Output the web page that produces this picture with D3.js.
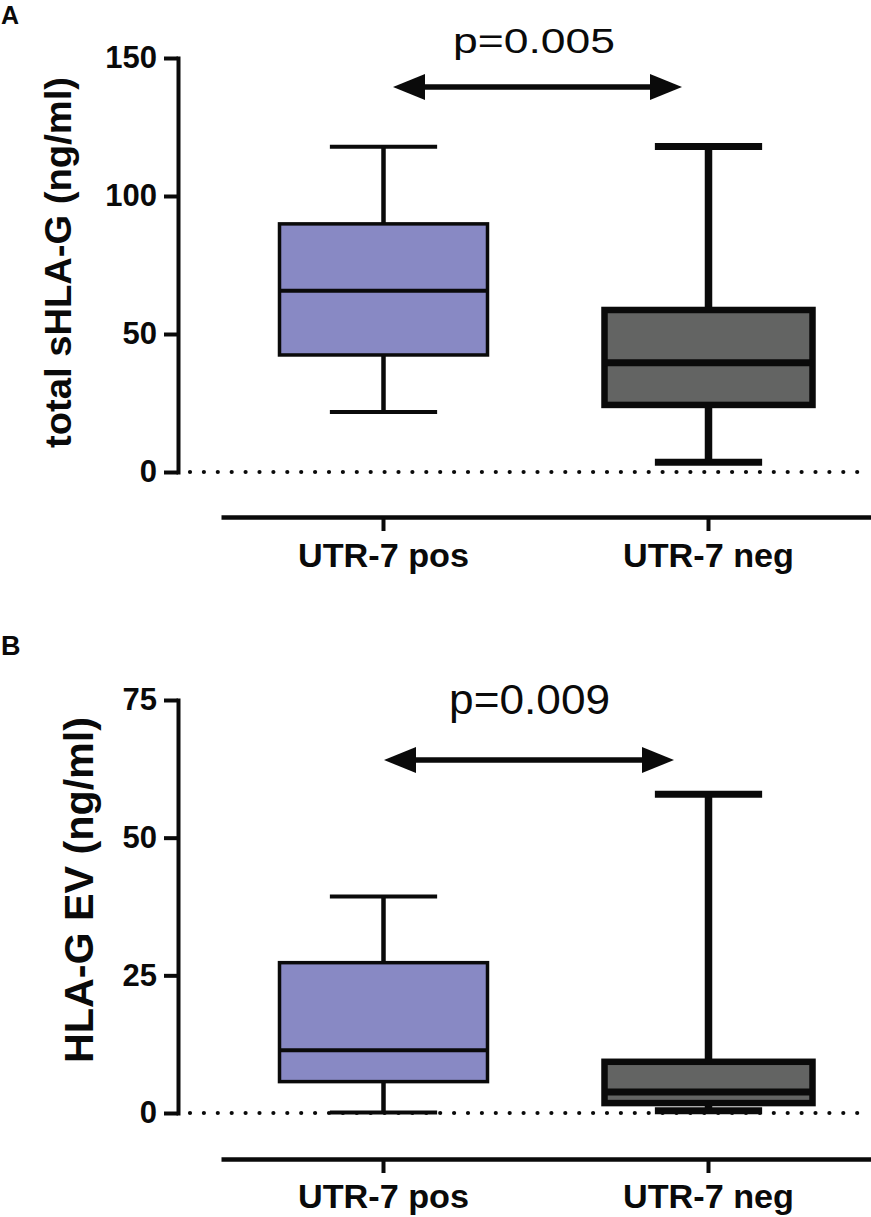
<!DOCTYPE html>
<html>
<head>
<meta charset="utf-8">
<script src="https://cdn.jsdelivr.net/npm/d3@7"></script>
<style>
  html, body { margin: 0; padding: 0; background: #fff; }
  svg { display: block; }
  text { font-family: "Liberation Sans", Arial, Helvetica, sans-serif; }
</style>
</head>
<body>
<svg id="chart" width="871" height="1217"></svg>
<script>
// ---------------- data ----------------
const categories = ["UTR-7 pos", "UTR-7 neg"];

// Panel A: total sHLA-G (ng/ml)
const totalMin    = [21.7, 3.5];
const totalQ1     = [42.4, 24.3];
const totalMedian = [65.7, 39.6];
const totalQ3     = [89.9, 58.7];
const totalMax    = [117.8, 117.9];
const totalTicks  = [0, 50, 100, 150];

// Panel B: HLA-G EV (ng/ml)
const evMin    = [0.1, 0.4];
const evQ1     = [5.7, 1.8];
const evMedian = [11.4, 3.8];
const evQ3     = [27.3, 9.3];
const evMax    = [39.3, 57.9];
const evTicks  = [0, 25, 50, 75];

const pLabels = ["p=0.005", "p=0.009"];
const panelLetters = ["A", "B"];
const yTitles = ["total sHLA-G (ng/ml)", "HLA-G EV (ng/ml)"];

// ---------------- style ----------------
const fills = ["#8889c4", "#636463"];
const strokeW = [4, 7];
const ink = "#0a0a0a";

const svg = d3.select("#chart");

const panels = [
  {
    letter: panelLetters[0], title: yTitles[0], p: pLabels[0],
    min: totalMin, q1: totalQ1, med: totalMedian, q3: totalQ3, max: totalMax,
    ticks: totalTicks, domain: [0, 150], yRange: [472, 58],
    xAxisY: 517, labelBaseline: 567,
    titleX: 71, titleCenter: 262.5, titleLen: 371, titleSize: 37,
    pValue: 151.8, pSize: 35, pLen: 162, pCenterOffset: 0.488,
    arrowValue: 139.5, arrowL: 9.5, arrowR: -26.5,
    letterY: 24, letterSize: 25
  },
  {
    letter: panelLetters[1], title: yTitles[1], p: pLabels[1],
    min: evMin, q1: evQ1, med: evMedian, q3: evQ3, max: evMax,
    ticks: evTicks, domain: [0, 75], yRange: [1113, 700],
    xAxisY: 1159, labelBaseline: 1208,
    titleX: 93, titleCenter: 890, titleLen: 346, titleSize: 40,
    pValue: 72.5, pSize: 43, pLen: 161, pCenterOffset: 0.502,
    arrowValue: 64.1, arrowL: 0.5, arrowR: -34.5,
    letterY: 655, letterSize: 27
  }
];

const x = d3.scaleBand().domain(categories).range([221, 871]);
const bw = x.bandwidth();
const cx = c => x(c) + bw / 2;
const boxW = bw * 0.64;
const capW = bw * 0.33;

panels.forEach(P => {
  const y = d3.scaleLinear().domain(P.domain).range(P.yRange);
  const g = svg.append("g");

  // panel letter
  g.append("text").attr("x", 1).attr("y", P.letterY)
    .attr("font-size", P.letterSize).attr("font-weight", "bold").attr("fill", ink)
    .text(P.letter);

  // y axis
  const yAxis = d3.axisLeft(y).tickValues(P.ticks).tickSize(14).tickSizeOuter(0).tickPadding(7);
  const ya = g.append("g").attr("transform", "translate(178,0)").call(yAxis);
  ya.select(".domain").attr("stroke", ink).attr("stroke-width", 4).attr("stroke-linecap", "square");
  ya.selectAll(".tick line").attr("stroke", ink).attr("stroke-width", 4);
  ya.selectAll(".tick text").attr("font-size", 31).attr("font-weight", "bold").attr("fill", ink)
    .attr("font-family", "'Liberation Sans', Arial, sans-serif");

  // y title
  g.append("text")
    .attr("transform", `translate(${P.titleX},${P.titleCenter}) rotate(-90)`)
    .attr("text-anchor", "middle")
    .attr("font-size", P.titleSize).attr("font-weight", "bold").attr("fill", ink)
    .attr("textLength", P.titleLen).attr("lengthAdjust", "spacingAndGlyphs")
    .text(P.title);

  // dotted zero line
  g.append("line")
    .attr("x1", 190).attr("x2", 858)
    .attr("y1", y(0)).attr("y2", y(0))
    .attr("stroke", ink).attr("stroke-width", 4.2)
    .attr("stroke-linecap", "round").attr("stroke-dasharray", "0 13.9");

  // x axis
  const xAxis = d3.axisBottom(x).tickSize(14).tickSizeOuter(0).tickFormat("");
  const xa = g.append("g").attr("transform", `translate(0,${P.xAxisY})`).call(xAxis);
  xa.select(".domain").attr("stroke", ink).attr("stroke-width", 4.5);
  xa.selectAll(".tick line").attr("stroke", ink).attr("stroke-width", 4);

  // category labels
  g.selectAll(".cat").data(categories).enter().append("text")
    .attr("x", d => cx(d)).attr("y", P.labelBaseline)
    .attr("text-anchor", "middle")
    .attr("font-size", 33).attr("font-weight", "bold").attr("fill", ink)
    .attr("textLength", 171).attr("lengthAdjust", "spacingAndGlyphs")
    .text(d => d);

  // boxes
  categories.forEach((c, i) => {
    const xc = cx(c);
    const sw = strokeW[i];
    const bg = g.append("g");
    // whiskers
    bg.append("line").attr("x1", xc).attr("x2", xc)
      .attr("y1", y(P.max[i])).attr("y2", y(P.q3[i]))
      .attr("stroke", ink).attr("stroke-width", sw + 0.5);
    bg.append("line").attr("x1", xc).attr("x2", xc)
      .attr("y1", y(P.q1[i])).attr("y2", y(P.min[i]))
      .attr("stroke", ink).attr("stroke-width", sw + 0.5);
    // caps
    [P.max[i], P.min[i]].forEach(v => {
      bg.append("line").attr("x1", xc - capW / 2).attr("x2", xc + capW / 2)
        .attr("y1", y(v)).attr("y2", y(v))
        .attr("stroke", ink).attr("stroke-width", sw);
    });
    // box
    bg.append("rect")
      .attr("x", xc - boxW / 2).attr("width", boxW)
      .attr("y", y(P.q3[i])).attr("height", y(P.q1[i]) - y(P.q3[i]))
      .attr("fill", fills[i]).attr("stroke", ink).attr("stroke-width", sw - 0.5);
    // median
    bg.append("line").attr("x1", xc - boxW / 2).attr("x2", xc + boxW / 2)
      .attr("y1", y(P.med[i])).attr("y2", y(P.med[i]))
      .attr("stroke", ink).attr("stroke-width", sw);
  });

  // significance arrow
  const ay = y(P.arrowValue);
  const xl = cx(categories[0]) + P.arrowL;
  const xr = cx(categories[1]) + P.arrowR;
  const headL = 32, headH = 13;
  g.append("line").attr("x1", xl + headL - 2).attr("x2", xr - headL + 2)
    .attr("y1", ay).attr("y2", ay).attr("stroke", ink).attr("stroke-width", 5.5);
  g.append("path")
    .attr("d", `M${xl},${ay} L${xl + headL},${ay - headH} L${xl + headL},${ay + headH} Z`)
    .attr("fill", ink);
  g.append("path")
    .attr("d", `M${xr},${ay} L${xr - headL},${ay - headH} L${xr - headL},${ay + headH} Z`)
    .attr("fill", ink);

  // p label
  g.append("text")
    .attr("x", xl + (xr - xl) * P.pCenterOffset).attr("y", y(P.pValue))
    .attr("text-anchor", "middle")
    .attr("font-size", P.pSize).attr("fill", ink)
    .attr("textLength", P.pLen).attr("lengthAdjust", "spacingAndGlyphs")
    .text(P.p);
});
</script>
</body>
</html>
